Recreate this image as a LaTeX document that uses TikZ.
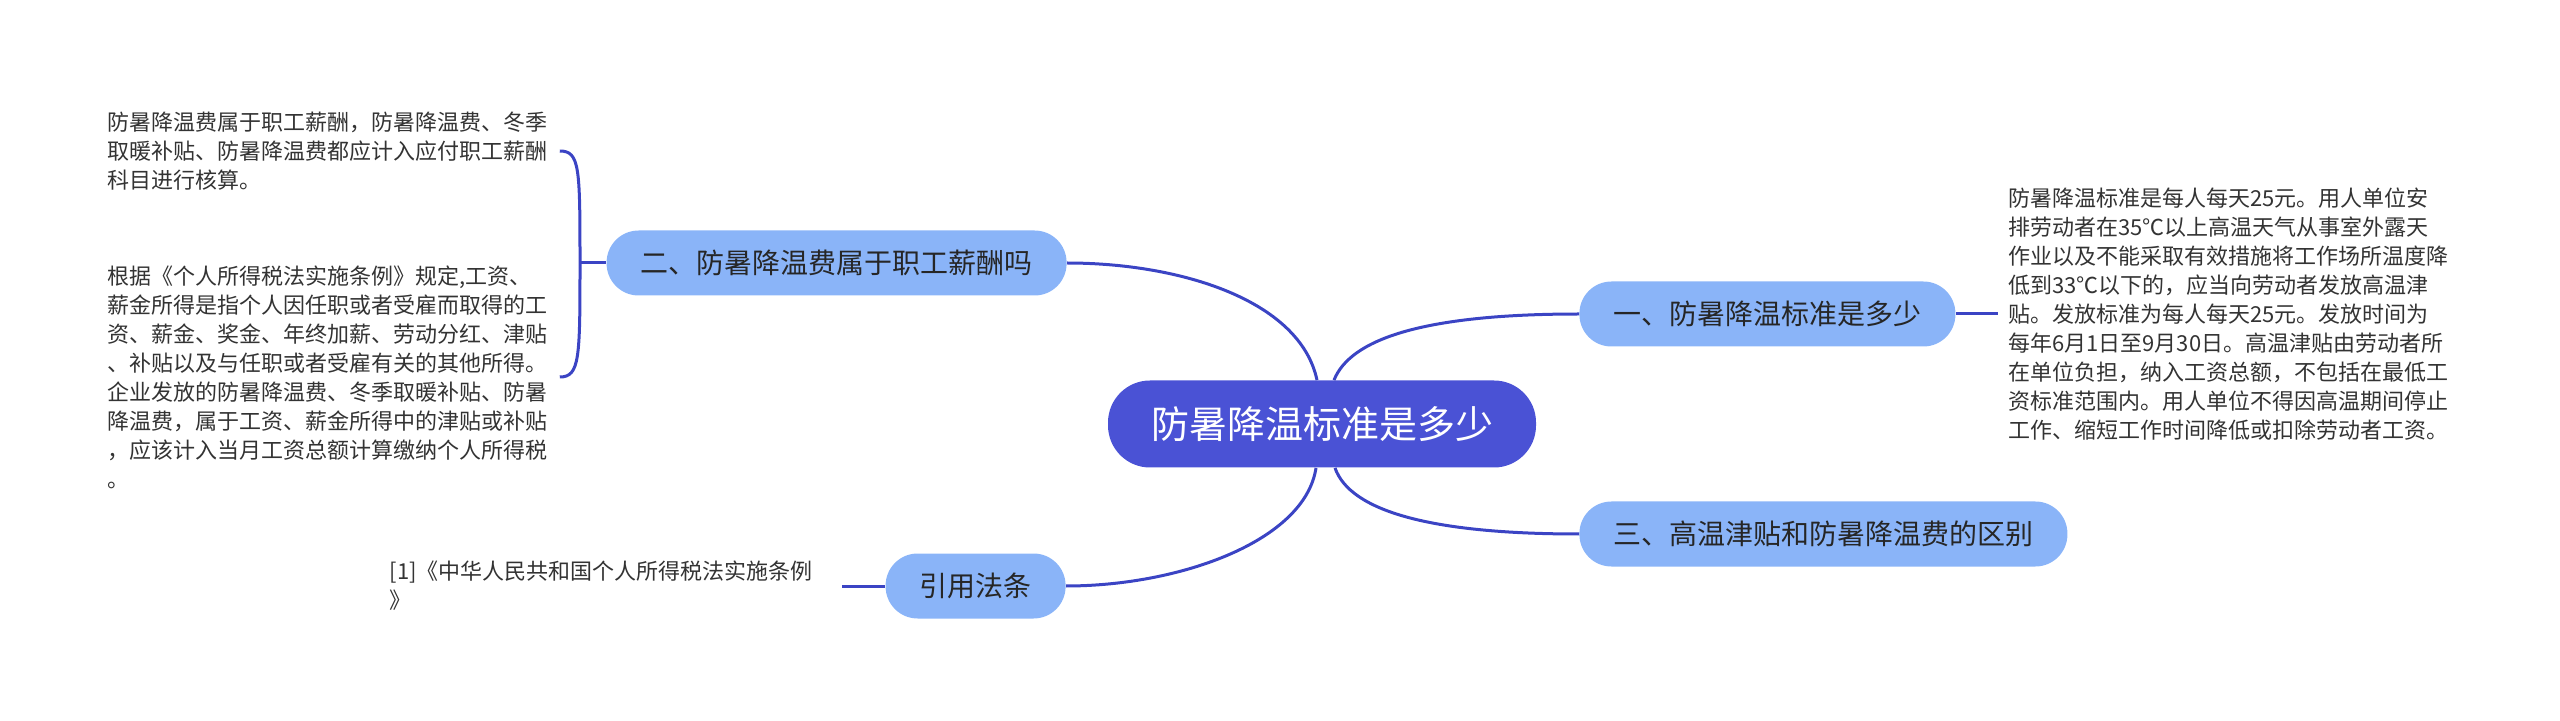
\documentclass[tikz,border=0pt]{standalone}
\usepackage{fontspec}
\setmainfont{Noto Sans CJK SC}
\usepackage{tikz}
\usetikzlibrary{positioning,calc}

\definecolor{rootblue}{HTML}{4A52D5}
\definecolor{subblue}{HTML}{8AB4F8}
\definecolor{linkblue}{HTML}{3B44C4}
\definecolor{txtgray}{HTML}{333333}

\begin{document}
\begin{tikzpicture}[
  x=0.5pt,y=-0.5pt,
  root/.style={fill=rootblue,text=white,rounded corners=21pt,inner xsep=21.5pt,
               minimum height=43.5pt,font=\fontsize{19pt}{22pt}\selectfont},
  sub/.style={fill=subblue,text=black!85,rounded corners=16pt,inner xsep=17pt,
              minimum height=32.5pt,font=\fontsize{14pt}{17pt}\selectfont},
  leaf/.style={text=txtgray,align=left,text width=221pt,inner xsep=5pt,inner ysep=0pt,
               font=\fontsize{11pt}{14.5pt}\selectfont},
  link/.style={draw=linkblue,line width=1.5pt},
]
  \useasboundingbox (0,0) rectangle (2560,721);

  \node[root] (c) at (1322,424) {防暑降温标准是多少};

  \node[sub,anchor=west] (n1) at (1579,314) {一、防暑降温标准是多少};
  \node[sub,anchor=east] (n2) at (1067,263) {二、防暑降温费属于职工薪酬吗};
  \node[sub,anchor=west] (n3) at (1579,534) {三、高温津贴和防暑降温费的区别};
  \node[sub,anchor=east] (n4) at (1066,586) {引用法条};

  % leaves
  \node[leaf,right=21pt of n1] (l1) {防暑降温标准是每人每天25元。用人单位安\\
    排劳动者在35℃以上高温天气从事室外露天\\
    作业以及不能采取有效措施将工作场所温度降\\
    低到33℃以下的，应当向劳动者发放高温津\\
    贴。发放标准为每人每天25元。发放时间为\\
    每年6月1日至9月30日。高温津贴由劳动者所\\
    在单位负担，纳入工资总额，不包括在最低工\\
    资标准范围内。用人单位不得因高温期间停止\\
    工作、缩短工作时间降低或扣除劳动者工资。};
  \node[leaf,anchor=west] (l2a) at (97,151) {防暑降温费属于职工薪酬，防暑降温费、冬季\\
    取暖补贴、防暑降温费都应计入应付职工薪酬\\
    科目进行核算。};
  \node[leaf,anchor=west] (l2b) at (97,377) {根据《个人所得税法实施条例》规定,工资、\\
    薪金所得是指个人因任职或者受雇而取得的工\\
    资、薪金、奖金、年终加薪、劳动分红、津贴\\
    、补贴以及与任职或者受雇有关的其他所得。\\
    企业发放的防暑降温费、冬季取暖补贴、防暑\\
    降温费，属于工资、薪金所得中的津贴或补贴\\
    ，应该计入当月工资总额计算缴纳个人所得税\\
    。};
  \node[leaf,left=21.5pt of n4] (l4) {[1]《中华人民共和国个人所得税法实施条例\\
    》};

  % connectors
  \draw[link] ([xshift=-2.5pt]c.north) .. controls +(-17,-80) and +(113,0) .. (n2.east);
  \draw[link] ([xshift=6pt]c.north) .. controls +(16,-40) and +(-159,0) .. (n1.west);
  \draw[link] ([xshift=-3pt]c.south) .. controls +(-11,73) and +(114,0) .. (n4.east);
  \draw[link] ([xshift=6.5pt]c.south) .. controls +(15,43) and +(-149,0) .. (n3.west);

  \draw[link] (n1.east) -- (l1.west);
  \draw[link] (n4.west) -- (l4.east);
  \coordinate (br) at (580,263);
  \draw[link] (n2.west) -- (br);
  \draw[link] (l2a.east) .. controls +(20,0) and +(0,-95) .. (br)
              .. controls +(0,95) and +(20,0) .. (l2b.east);
\end{tikzpicture}
\end{document}
